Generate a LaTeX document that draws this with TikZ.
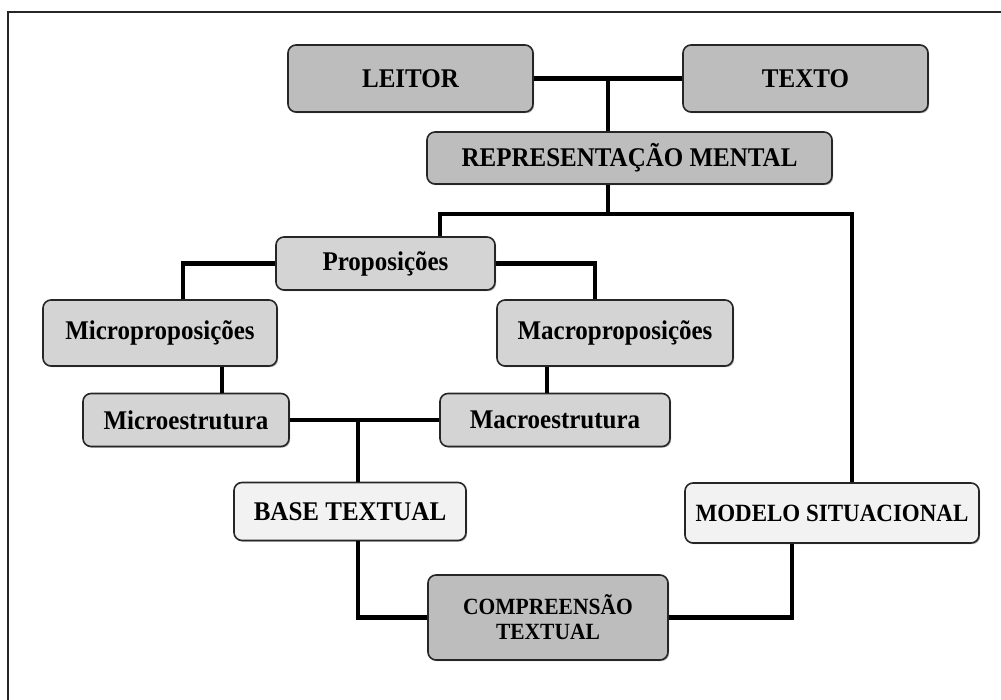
\documentclass[tikz,border=0pt]{standalone}
\usepackage{fontspec}
\setmainfont{Liberation Serif}
\usetikzlibrary{calc,shadows}

\definecolor{darkbox}{HTML}{BDBDBD}
\definecolor{midbox}{HTML}{D4D4D4}
\definecolor{lightbox}{HTML}{F2F2F2}

% slightly tall lettering
\newcommand{\tallt}[1]{\scalebox{1}[1.08]{#1}}

\tikzset{
  box/.style={draw=black!85, line width=1.6pt, rounded corners=8pt,
    inner sep=0pt, align=center, font=\bfseries\fontsize{25}{27}\selectfont,
    drop shadow={shadow xshift=1.2pt, shadow yshift=-1.2pt, fill=black, opacity=.3}},
  darkb/.style={box, fill=darkbox},
  midb/.style={box, fill=midbox},
  lightb/.style={box, fill=lightbox},
  link/.style={line width=4.5pt, black, line join=miter},
}

\begin{document}
\begin{tikzpicture}[x=1pt, y=-1pt]
\useasboundingbox (0,0) rectangle (1001,700);
\fill[white] (0,0) rectangle (1001,700);

% outer frame (top and left edges)
\draw[line width=2pt, black!85] (1001,12) -- (8,12) -- (8,700);

% bend points
\coordinate (hub) at (608,214);
\coordinate (hubL) at (440,214);
\coordinate (hubR) at (852,214);
\coordinate (pl) at (183,0);
\coordinate (pr) at (595,0);
\coordinate (mil) at (222,0);
\coordinate (mal) at (547,0);
\coordinate (bj) at (358,0);
\coordinate (ms) at (792,0);

% nodes
\node[darkb, minimum width=245pt, minimum height=67pt] (leitor) at (410.5,78.5) {\tallt{LEITOR}};
\node[darkb, minimum width=245pt, minimum height=67pt] (texto) at (805.5,78.5) {\tallt{TEXTO}};
\node[darkb, minimum width=405pt, minimum height=52pt] (rep) at (629.5,158) {\tallt{REPRESENTAÇÃO MENTAL}};
\node[midb, minimum width=219pt, minimum height=53pt] (prop) at (385.5,263.5) {\tallt{Proposições}};
\node[midb, minimum width=234pt, minimum height=66pt] (microp) at (160,333) {\tallt{Microproposições}};
\node[midb, minimum width=236pt, minimum height=66pt] (macrop) at (615,333) {\tallt{Macroproposições}};
\node[midb, minimum width=206pt, minimum height=53pt] (microe) at (186,420) {\tallt{Microestrutura}};
\node[midb, minimum width=230pt, minimum height=53pt] (macroe) at (555,420) {\tallt{Macroestrutura}};
\node[lightb, minimum width=232pt, minimum height=58pt] (base) at (350,511.5) {\tallt{BASE TEXTUAL}};
\node[lightb, minimum width=294pt, minimum height=60pt, font=\bfseries\fontsize{23}{25}\selectfont] (modelo) at (832,513) {\tallt{MODELO SITUACIONAL}};
\node[darkb, minimum width=240pt, minimum height=85pt, font=\bfseries\fontsize{21.5}{25}\selectfont] (compr) at (548,617.5) {\tallt{COMPREENSÃO}\\\tallt{TEXTUAL}};

\coordinate (top) at ($(leitor.east)!.5!(texto.west)$);

% connectors
\draw[link] (leitor.east) -- (texto.west);
\draw[link] (top) -- (top |- rep.north);
\draw[link] (hub |- rep.south) -- (hub);
\draw[link] (prop.north -| hubL) -- (hubL) -- (hubR) -- (hubR |- modelo.north);
\draw[link] (prop.west) -- (prop.west -| pl) -- (pl |- microp.north);
\draw[link] (prop.east) -- (prop.east -| pr) -- (pr |- macrop.north);
\draw[link] (mil |- microp.south) -- (mil |- microe.north);
\draw[link] (mal |- macrop.south) -- (mal |- macroe.north);
\draw[link] (microe.east) -- (macroe.west);
\draw[link] (bj |- microe.east) -- (bj |- base.north);
\draw[link] (bj |- base.south) -- (bj |- compr.west) -- (compr.west);
\draw[link] (ms |- modelo.south) -- (ms |- compr.east) -- (compr.east);
\end{tikzpicture}
\end{document}
